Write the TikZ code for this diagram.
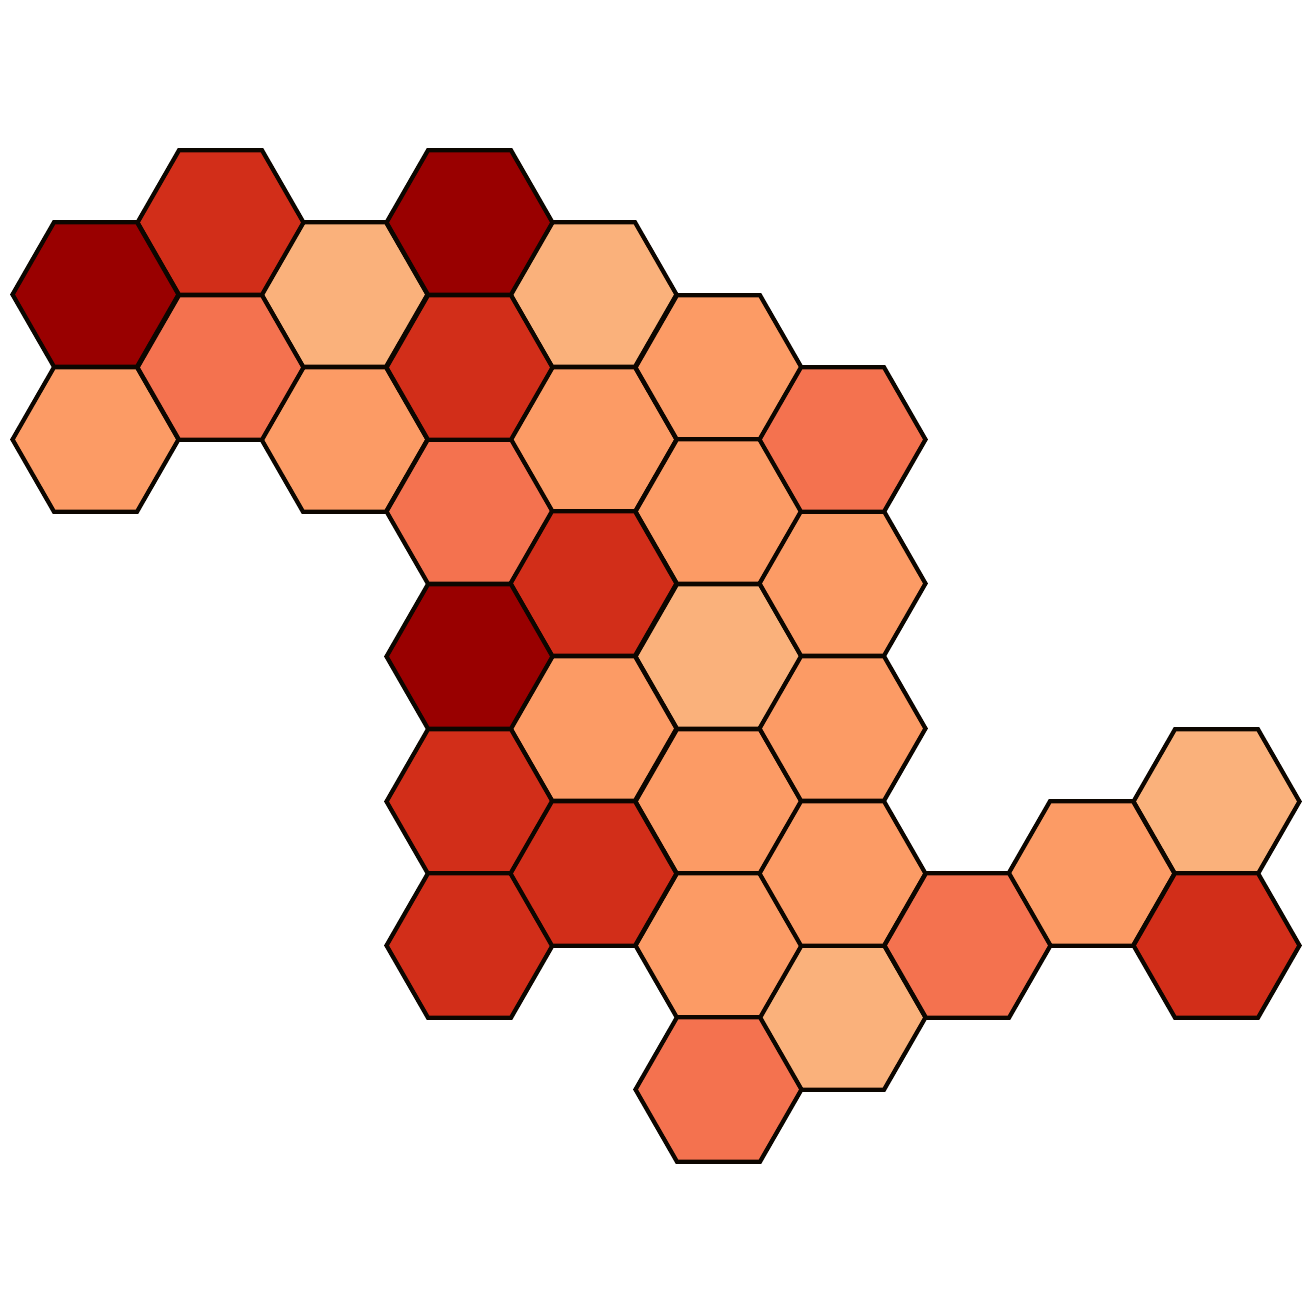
\documentclass[tikz,border=0pt]{standalone}
\usepackage{xcolor}
\definecolor{hexline}{RGB}{12,6,0}
\definecolor{hexdark}{RGB}{153,0,0}
\definecolor{hexred}{RGB}{210,46,25}
\definecolor{hexsalmon}{RGB}{244,114,79}
\definecolor{hexorange}{RGB}{252,155,101}
\definecolor{hexlight}{RGB}{250,177,123}
\tikzset{hexcell/.style={draw=hexline, line width=1.2pt, line join=miter}}
\newcommand{\hexat}[3]{%
  \draw[hexcell, fill=#3] (#1+0.83,13.12-#2) -- (#1+0.415,13.12-#2+0.7225)
    -- (#1-0.415,13.12-#2+0.7225) -- (#1-0.83,13.12-#2)
    -- (#1-0.415,13.12-#2-0.7225) -- (#1+0.415,13.12-#2-0.7225) -- cycle;}

\begin{document}
\begin{tikzpicture}
  \useasboundingbox (0,0) rectangle (13.12,13.12);

  % Lightest cells
  \foreach \cx/\cy in {3.445/2.945, 5.935/2.945, 7.185/6.565, 8.425/10.175, 12.165/8.015}
    \hexat{\cx}{\cy}{hexlight};

  % Orange cells
  \foreach \cx/\cy in {0.955/4.395, 3.445/4.395, 5.935/4.395, 5.935/7.285, 7.185/3.675, 7.185/5.115,
                       7.185/8.015, 7.185/9.455, 8.425/5.835, 8.425/7.285, 8.425/8.735, 10.915/8.735}
    \hexat{\cx}{\cy}{hexorange};

  % Salmon cells
  \foreach \cx/\cy in {2.205/3.675, 4.695/5.115, 8.425/4.395, 9.675/9.455, 7.185/10.895}
    \hexat{\cx}{\cy}{hexsalmon};

  % Red cells
  \foreach \cx/\cy in {2.205/2.225, 4.695/3.675, 5.935/5.835, 4.695/8.015, 4.695/9.455, 5.935/8.735, 12.165/9.455}
    \hexat{\cx}{\cy}{hexred};

  % Darkest cells
  \foreach \cx/\cy in {0.955/2.945, 4.695/2.225, 4.695/6.565}
    \hexat{\cx}{\cy}{hexdark};
\end{tikzpicture}
\end{document}
